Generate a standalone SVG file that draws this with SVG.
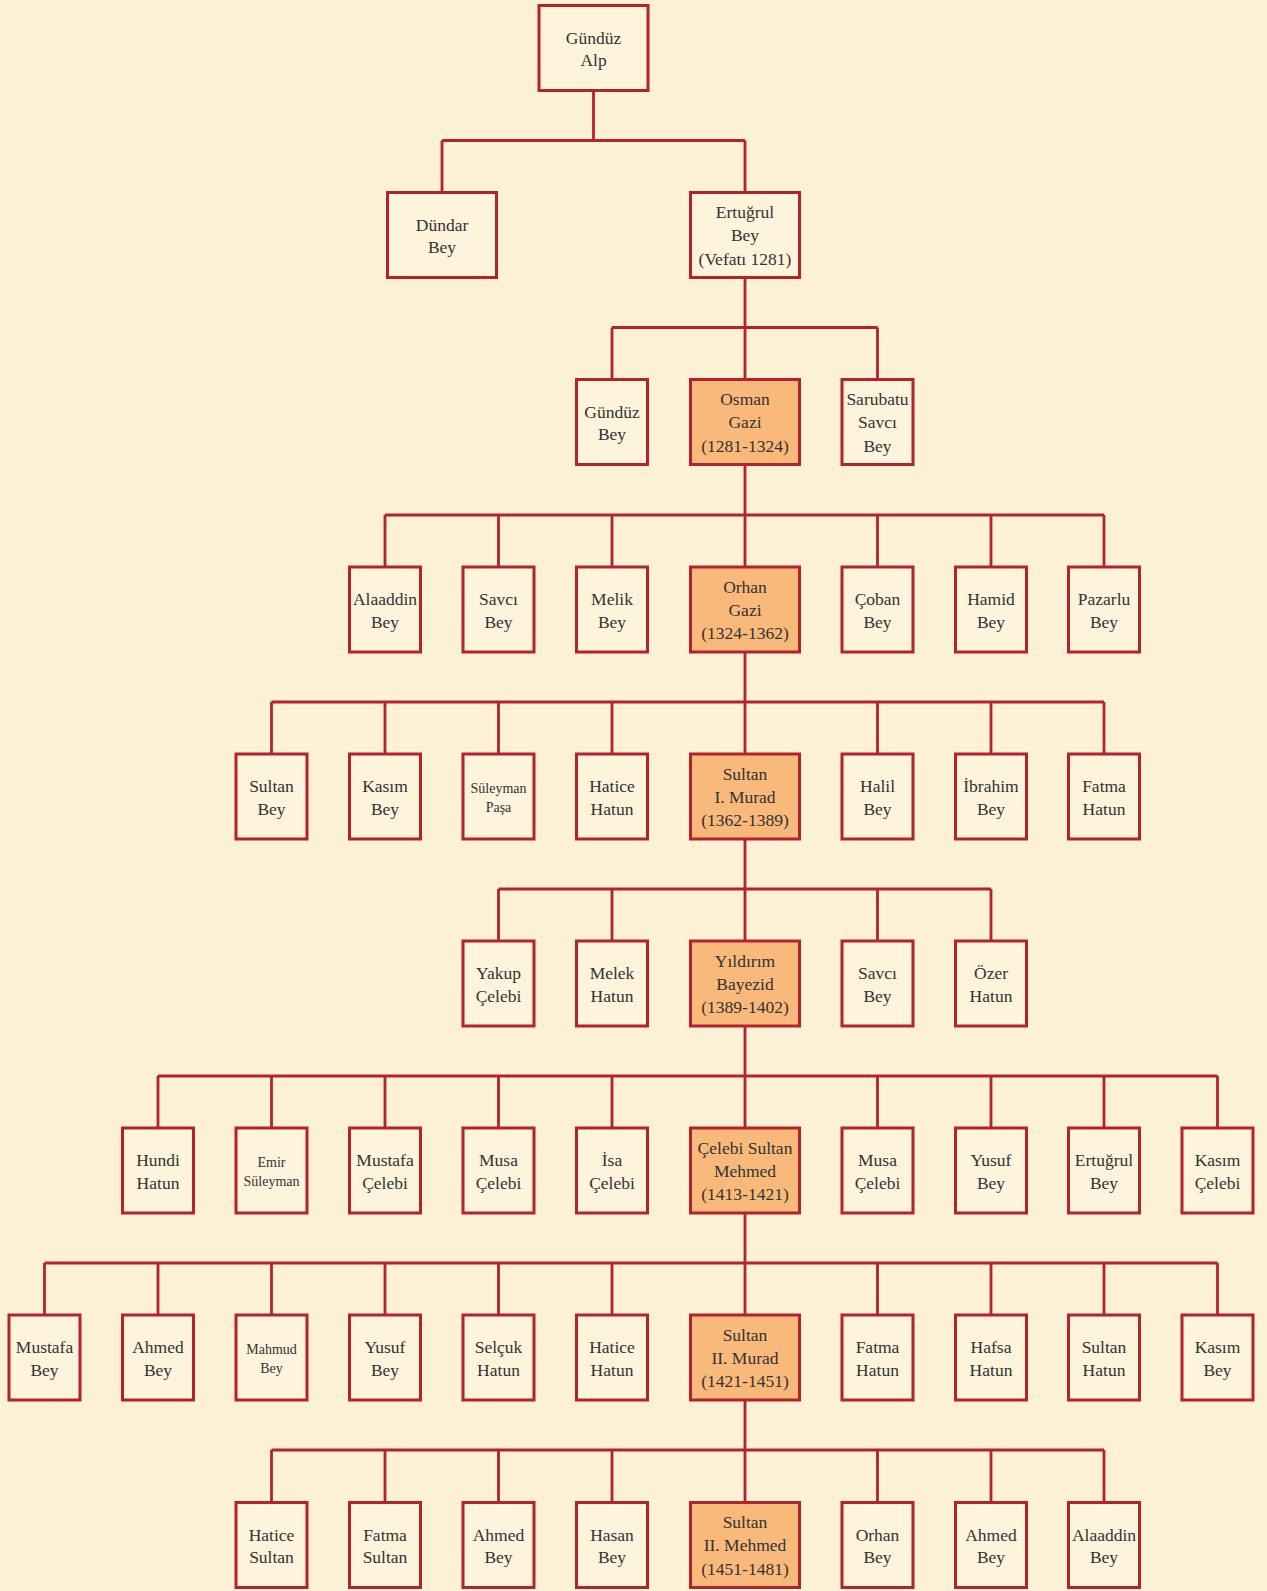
<svg xmlns="http://www.w3.org/2000/svg" width="1267" height="1591" viewBox="0 0 1267 1591">
<style>
.bg{fill:#fcf0d5}
.n rect{fill:#fdf4db;stroke:#b3232d;stroke-width:3}
.n.o rect{fill:#f9b97b}
.n text{font-family:"Liberation Serif","Times New Roman",serif;font-size:17.5px;fill:#333;text-anchor:middle}
.n text.s{font-size:14px}
.c path{fill:none;stroke:#b3232d;stroke-width:2.8}
</style>
<rect class="bg" x="0" y="0" width="1267" height="1591"/>
<g class="c" id="connectors">
<path d="M593.5 90.5V140.5M442 140.5H745M442 140.5V192.5M745 140.5V192.5"/>
<path d="M745 277.5V379.5M612 327.5H877.5M612 327.5V379.5M877.5 327.5V379.5"/>
<path d="M745 464.5V567M385 515H1104M385 515V567M498.5 515V567M612 515V567M877.5 515V567M991 515V567M1104 515V567"/>
<path d="M745 652V754M271.5 702H1104M271.5 702V754M385 702V754M498.5 702V754M612 702V754M877.5 702V754M991 702V754M1104 702V754"/>
<path d="M745 839V941M498.5 889H991M498.5 889V941M612 889V941M877.5 889V941M991 889V941"/>
<path d="M745 1026V1128M158 1076H1217.5M158 1076V1128M271.5 1076V1128M385 1076V1128M498.5 1076V1128M612 1076V1128M877.5 1076V1128M991 1076V1128M1104 1076V1128M1217.5 1076V1128"/>
<path d="M745 1213V1315M44.5 1263H1217.5M44.5 1263V1315M158 1263V1315M271.5 1263V1315M385 1263V1315M498.5 1263V1315M612 1263V1315M877.5 1263V1315M991 1263V1315M1104 1263V1315M1217.5 1263V1315"/>
<path d="M745 1400V1502.5M271.5 1450H1104M271.5 1450V1502.5M385 1450V1502.5M498.5 1450V1502.5M612 1450V1502.5M877.5 1450V1502.5M991 1450V1502.5M1104 1450V1502.5"/>
</g>

<!-- Row 0 -->
<g class="n" id="gunduz-alp" transform="translate(593.5,5.5)"><rect x="-54.5" y="0" width="109" height="85"/><text y="38">Gündüz</text><text y="60.5">Alp</text></g>

<!-- Row 1 -->
<g class="n" id="dundar-bey" transform="translate(442,192.5)"><rect x="-54.5" y="0" width="109" height="85"/><text y="38">Dündar</text><text y="60.5">Bey</text></g>
<g class="n" id="ertugrul-bey" transform="translate(745,192.5)"><rect x="-54.5" y="0" width="109" height="85"/><text y="25.5">Ertuğrul</text><text y="48.8">Bey</text><text y="72">(Vefatı 1281)</text></g>

<!-- Row 2 -->
<g class="n" id="gunduz-bey" transform="translate(612,379.5)"><rect x="-35.5" y="0" width="71" height="85"/><text y="38">Gündüz</text><text y="60.5">Bey</text></g>
<g class="n o" id="osman-gazi" transform="translate(745,379.5)"><rect x="-54.5" y="0" width="109" height="85"/><text y="25.5">Osman</text><text y="48.8">Gazi</text><text y="72">(1281-1324)</text></g>
<g class="n" id="sarubatu-savci-bey" transform="translate(877.5,379.5)"><rect x="-35.5" y="0" width="71" height="85"/><text y="25.5">Sarubatu</text><text y="48.8">Savcı</text><text y="72">Bey</text></g>

<!-- Row 3 -->
<g class="n" id="alaaddin-bey-1" transform="translate(385,567)"><rect x="-35.5" y="0" width="71" height="85"/><text y="38">Alaaddin</text><text y="60.5">Bey</text></g>
<g class="n" id="savci-bey-1" transform="translate(498.5,567)"><rect x="-35.5" y="0" width="71" height="85"/><text y="38">Savcı</text><text y="60.5">Bey</text></g>
<g class="n" id="melik-bey" transform="translate(612,567)"><rect x="-35.5" y="0" width="71" height="85"/><text y="38">Melik</text><text y="60.5">Bey</text></g>
<g class="n o" id="orhan-gazi" transform="translate(745,567)"><rect x="-54.5" y="0" width="109" height="85"/><text y="25.5">Orhan</text><text y="48.8">Gazi</text><text y="72">(1324-1362)</text></g>
<g class="n" id="coban-bey" transform="translate(877.5,567)"><rect x="-35.5" y="0" width="71" height="85"/><text y="38">Çoban</text><text y="60.5">Bey</text></g>
<g class="n" id="hamid-bey" transform="translate(991,567)"><rect x="-35.5" y="0" width="71" height="85"/><text y="38">Hamid</text><text y="60.5">Bey</text></g>
<g class="n" id="pazarlu-bey" transform="translate(1104,567)"><rect x="-35.5" y="0" width="71" height="85"/><text y="38">Pazarlu</text><text y="60.5">Bey</text></g>

<!-- Row 4 -->
<g class="n" id="sultan-bey" transform="translate(271.5,754)"><rect x="-35.5" y="0" width="71" height="85"/><text y="38">Sultan</text><text y="60.5">Bey</text></g>
<g class="n" id="kasim-bey-1" transform="translate(385,754)"><rect x="-35.5" y="0" width="71" height="85"/><text y="38">Kasım</text><text y="60.5">Bey</text></g>
<g class="n" id="suleyman-pasa" transform="translate(498.5,754)"><rect x="-35.5" y="0" width="71" height="85"/><text class="s" y="39">Süleyman</text><text class="s" y="58">Paşa</text></g>
<g class="n" id="hatice-hatun-1" transform="translate(612,754)"><rect x="-35.5" y="0" width="71" height="85"/><text y="38">Hatice</text><text y="60.5">Hatun</text></g>
<g class="n o" id="sultan-i-murad" transform="translate(745,754)"><rect x="-54.5" y="0" width="109" height="85"/><text y="25.5">Sultan</text><text y="48.8">I. Murad</text><text y="72">(1362-1389)</text></g>
<g class="n" id="halil-bey" transform="translate(877.5,754)"><rect x="-35.5" y="0" width="71" height="85"/><text y="38">Halil</text><text y="60.5">Bey</text></g>
<g class="n" id="ibrahim-bey" transform="translate(991,754)"><rect x="-35.5" y="0" width="71" height="85"/><text y="38">İbrahim</text><text y="60.5">Bey</text></g>
<g class="n" id="fatma-hatun-1" transform="translate(1104,754)"><rect x="-35.5" y="0" width="71" height="85"/><text y="38">Fatma</text><text y="60.5">Hatun</text></g>

<!-- Row 5 -->
<g class="n" id="yakup-celebi" transform="translate(498.5,941)"><rect x="-35.5" y="0" width="71" height="85"/><text y="38">Yakup</text><text y="60.5">Çelebi</text></g>
<g class="n" id="melek-hatun" transform="translate(612,941)"><rect x="-35.5" y="0" width="71" height="85"/><text y="38">Melek</text><text y="60.5">Hatun</text></g>
<g class="n o" id="yildirim-bayezid" transform="translate(745,941)"><rect x="-54.5" y="0" width="109" height="85"/><text y="25.5">Yıldırım</text><text y="48.8">Bayezid</text><text y="72">(1389-1402)</text></g>
<g class="n" id="savci-bey-2" transform="translate(877.5,941)"><rect x="-35.5" y="0" width="71" height="85"/><text y="38">Savcı</text><text y="60.5">Bey</text></g>
<g class="n" id="ozer-hatun" transform="translate(991,941)"><rect x="-35.5" y="0" width="71" height="85"/><text y="38">Özer</text><text y="60.5">Hatun</text></g>

<!-- Row 6 -->
<g class="n" id="hundi-hatun" transform="translate(158,1128)"><rect x="-35.5" y="0" width="71" height="85"/><text y="38">Hundi</text><text y="60.5">Hatun</text></g>
<g class="n" id="emir-suleyman" transform="translate(271.5,1128)"><rect x="-35.5" y="0" width="71" height="85"/><text class="s" y="39">Emir</text><text class="s" y="58">Süleyman</text></g>
<g class="n" id="mustafa-celebi" transform="translate(385,1128)"><rect x="-35.5" y="0" width="71" height="85"/><text y="38">Mustafa</text><text y="60.5">Çelebi</text></g>
<g class="n" id="musa-celebi-1" transform="translate(498.5,1128)"><rect x="-35.5" y="0" width="71" height="85"/><text y="38">Musa</text><text y="60.5">Çelebi</text></g>
<g class="n" id="isa-celebi" transform="translate(612,1128)"><rect x="-35.5" y="0" width="71" height="85"/><text y="38">İsa</text><text y="60.5">Çelebi</text></g>
<g class="n o" id="celebi-sultan-mehmed" transform="translate(745,1128)"><rect x="-54.5" y="0" width="109" height="85"/><text y="25.5">Çelebi Sultan</text><text y="48.8">Mehmed</text><text y="72">(1413-1421)</text></g>
<g class="n" id="musa-celebi-2" transform="translate(877.5,1128)"><rect x="-35.5" y="0" width="71" height="85"/><text y="38">Musa</text><text y="60.5">Çelebi</text></g>
<g class="n" id="yusuf-bey-1" transform="translate(991,1128)"><rect x="-35.5" y="0" width="71" height="85"/><text y="38">Yusuf</text><text y="60.5">Bey</text></g>
<g class="n" id="ertugrul-bey-2" transform="translate(1104,1128)"><rect x="-35.5" y="0" width="71" height="85"/><text y="38">Ertuğrul</text><text y="60.5">Bey</text></g>
<g class="n" id="kasim-celebi" transform="translate(1217.5,1128)"><rect x="-35.5" y="0" width="71" height="85"/><text y="38">Kasım</text><text y="60.5">Çelebi</text></g>

<!-- Row 7 -->
<g class="n" id="mustafa-bey" transform="translate(44.5,1315)"><rect x="-35.5" y="0" width="71" height="85"/><text y="38">Mustafa</text><text y="60.5">Bey</text></g>
<g class="n" id="ahmed-bey-1" transform="translate(158,1315)"><rect x="-35.5" y="0" width="71" height="85"/><text y="38">Ahmed</text><text y="60.5">Bey</text></g>
<g class="n" id="mahmud-bey" transform="translate(271.5,1315)"><rect x="-35.5" y="0" width="71" height="85"/><text class="s" y="39">Mahmud</text><text class="s" y="58">Bey</text></g>
<g class="n" id="yusuf-bey-2" transform="translate(385,1315)"><rect x="-35.5" y="0" width="71" height="85"/><text y="38">Yusuf</text><text y="60.5">Bey</text></g>
<g class="n" id="selcuk-hatun" transform="translate(498.5,1315)"><rect x="-35.5" y="0" width="71" height="85"/><text y="38">Selçuk</text><text y="60.5">Hatun</text></g>
<g class="n" id="hatice-hatun-2" transform="translate(612,1315)"><rect x="-35.5" y="0" width="71" height="85"/><text y="38">Hatice</text><text y="60.5">Hatun</text></g>
<g class="n o" id="sultan-ii-murad" transform="translate(745,1315)"><rect x="-54.5" y="0" width="109" height="85"/><text y="25.5">Sultan</text><text y="48.8">II. Murad</text><text y="72">(1421-1451)</text></g>
<g class="n" id="fatma-hatun-2" transform="translate(877.5,1315)"><rect x="-35.5" y="0" width="71" height="85"/><text y="38">Fatma</text><text y="60.5">Hatun</text></g>
<g class="n" id="hafsa-hatun" transform="translate(991,1315)"><rect x="-35.5" y="0" width="71" height="85"/><text y="38">Hafsa</text><text y="60.5">Hatun</text></g>
<g class="n" id="sultan-hatun" transform="translate(1104,1315)"><rect x="-35.5" y="0" width="71" height="85"/><text y="38">Sultan</text><text y="60.5">Hatun</text></g>
<g class="n" id="kasim-bey-2" transform="translate(1217.5,1315)"><rect x="-35.5" y="0" width="71" height="85"/><text y="38">Kasım</text><text y="60.5">Bey</text></g>

<!-- Row 8 -->
<g class="n" id="hatice-sultan" transform="translate(271.5,1502.5)"><rect x="-35.5" y="0" width="71" height="85"/><text y="38">Hatice</text><text y="60.5">Sultan</text></g>
<g class="n" id="fatma-sultan" transform="translate(385,1502.5)"><rect x="-35.5" y="0" width="71" height="85"/><text y="38">Fatma</text><text y="60.5">Sultan</text></g>
<g class="n" id="ahmed-bey-2" transform="translate(498.5,1502.5)"><rect x="-35.5" y="0" width="71" height="85"/><text y="38">Ahmed</text><text y="60.5">Bey</text></g>
<g class="n" id="hasan-bey" transform="translate(612,1502.5)"><rect x="-35.5" y="0" width="71" height="85"/><text y="38">Hasan</text><text y="60.5">Bey</text></g>
<g class="n o" id="sultan-ii-mehmed" transform="translate(745,1502.5)"><rect x="-54.5" y="0" width="109" height="85"/><text y="25.5">Sultan</text><text y="48.8">II. Mehmed</text><text y="72">(1451-1481)</text></g>
<g class="n" id="orhan-bey" transform="translate(877.5,1502.5)"><rect x="-35.5" y="0" width="71" height="85"/><text y="38">Orhan</text><text y="60.5">Bey</text></g>
<g class="n" id="ahmed-bey-3" transform="translate(991,1502.5)"><rect x="-35.5" y="0" width="71" height="85"/><text y="38">Ahmed</text><text y="60.5">Bey</text></g>
<g class="n" id="alaaddin-bey-2" transform="translate(1104,1502.5)"><rect x="-35.5" y="0" width="71" height="85"/><text y="38">Alaaddin</text><text y="60.5">Bey</text></g>
</svg>
